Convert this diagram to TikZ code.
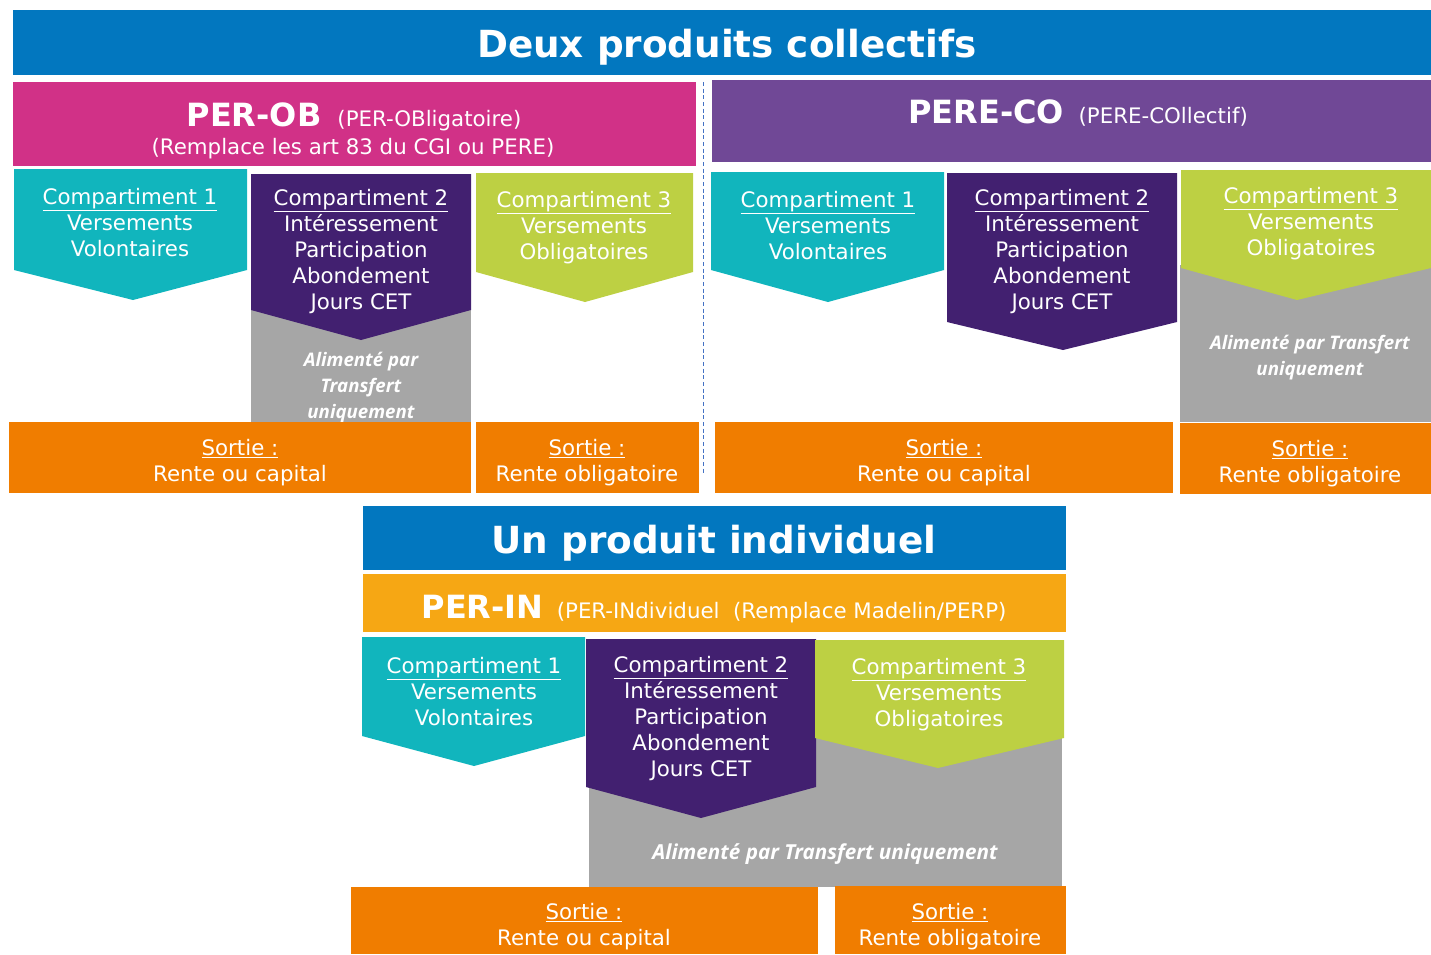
\documentclass[tikz,border=0pt]{standalone}
\usepackage{fontspec}
\setmainfont{DejaVu Sans}
\newfontfamily\alimfont{Open Sans}
\usepackage{tikz}
\definecolor{bleutitre}{RGB}{2,119,191}
\definecolor{perob}{RGB}{209,49,135}
\definecolor{pereco}{RGB}{112,72,150}
\definecolor{perin}{RGB}{246,167,20}
\definecolor{turquoise}{RGB}{17,181,189}
\definecolor{violetfonce}{RGB}{66,32,112}
\definecolor{vertclair}{RGB}{189,208,67}
\definecolor{gris}{RGB}{166,166,166}
\definecolor{sortie}{RGB}{240,125,0}
\definecolor{sepblue}{RGB}{68,114,196}

\begin{document}
\begin{tikzpicture}[x=0.75pt, y=-0.75pt,
		txt/.style={text=white, align=center, inner sep=0pt, yshift=-2.5pt, font=\fontsize{16}{19.5}\selectfont},
		titre/.style={text=white, inner sep=0pt, yshift=-2.25pt, font=\fontsize{28}{32}\selectfont\bfseries},
		alim/.style={text=white, align=center, inner sep=0pt, yshift=-2.5pt, font=\alimfont\fontsize{14}{19.5}\selectfont\bfseries\itshape},
		sepline/.style={draw=sepblue, densely dashed, line width=0.6pt}]
		\useasboundingbox (0,0) rectangle (1431,954);

		% Deux produits collectifs
		\fill[bleutitre] (13,10) rectangle (1431,75);
		\node[titre] (deux) at (727,44) {Deux produits collectifs};

		\fill[perob] (13,82) rectangle (696,166);
		\node[txt] (perob) at (354,114) {{\fontsize{24}{28}\selectfont\bfseries PER-OB}\hspace{12pt}(PER-OBligatoire)};
		\node[txt] (perob sub) at (353,145) {(Remplace les art 83 du CGI ou PERE)};

		\fill[pereco] (712,80) rectangle (1431,162);
		\node[txt] (pereco) at (1078,110) {{\fontsize{24}{28}\selectfont\bfseries PERE-CO}\hspace{11pt}(PERE-COllectif)};

		\coordinate (sep haut) at (703,82);
		\coordinate (sep bas) at (703,475);
		\draw[sepline] (sep haut) -- (sep bas);

		% PER-OB
		\fill[gris] (251,310) rectangle (471,422);
		\fill[turquoise] (14,169) -- (247,169) -- (247,270) -- (133,300) -- (14,270) -- cycle;
		\node[txt] (ob c1) at (130,219) {\underline{Compartiment 1}\\Versements\\Volontaires};
		\fill[violetfonce] (251,174) -- (471,174) -- (471,310) -- (361,340) -- (251,310) -- cycle;
		\node[txt] (ob c2) at (361,248) {\underline{Compartiment 2}\\Intéressement\\Participation\\Abondement\\Jours CET};
		\node[alim] (ob alim) at (361,384) {Alimenté par\\Transfert\\uniquement};
		\fill[vertclair] (476,173) -- (693,173) -- (693,272) -- (585,302) -- (476,272) -- cycle;
		\node[txt] (ob c3) at (584,224) {\underline{Compartiment 3}\\Versements\\Obligatoires};

		\fill[sortie] (9,422) rectangle (471,493);
		\node[txt] (ob s1) at (240,459) {\underline{Sortie :}\\Rente ou capital};
		\fill[sortie] (476,422) rectangle (699,493);
		\node[txt] (ob s2) at (587,459) {\underline{Sortie :}\\Rente obligatoire};

		% PERE-CO
		\fill[gris] (1180,265) rectangle (1431,422);
		\fill[turquoise] (711,172) -- (944,172) -- (944,270) -- (828,302) -- (711,270) -- cycle;
		\node[txt] (co c1) at (828,222) {\underline{Compartiment 1}\\Versements\\Volontaires};
		\fill[violetfonce] (947,173) -- (1177,173) -- (1177,322) -- (1063,350) -- (947,322) -- cycle;
		\node[txt] (co c2) at (1062,248) {\underline{Compartiment 2}\\Intéressement\\Participation\\Abondement\\Jours CET};
		\fill[vertclair] (1181,170) -- (1431,170) -- (1431,268) -- (1297,300) -- (1181,268) -- cycle;
		\node[txt] (co c3) at (1311,220) {\underline{Compartiment 3}\\Versements\\Obligatoires};
		\node[alim] (co alim) at (1310,354) {Alimenté par Transfert\\uniquement};

		\fill[sortie] (715,422) rectangle (1173,493);
		\node[txt] (co s1) at (944,459) {\underline{Sortie :}\\Rente ou capital};
		\fill[sortie] (1180,423) rectangle (1431,494);
		\node[txt] (co s2) at (1310,460) {\underline{Sortie :}\\Rente obligatoire};

		% Un produit individuel
		\fill[bleutitre] (363,506) rectangle (1066,570);
		\node[titre] (un) at (714,540) {Un produit individuel};
		\fill[perin] (363,574) rectangle (1066,632);
		\node[txt] (perin) at (714,606) {{\fontsize{24}{28}\selectfont\bfseries PER-IN}\hspace{10pt}(PER-INdividuel\ \ (Remplace Madelin/PERP)};

		\fill[gris] (589,738) rectangle (1062,887);
		\fill[turquoise] (362,637) -- (585,637) -- (585,736) -- (474,766) -- (362,736) -- cycle;
		\node[txt] (in c1) at (474,688) {\underline{Compartiment 1}\\Versements\\Volontaires};
		\fill[violetfonce] (586,639) -- (816,639) -- (816,787) -- (701,818) -- (586,787) -- cycle;
		\node[txt] (in c2) at (701,715) {\underline{Compartiment 2}\\Intéressement\\Participation\\Abondement\\Jours CET};
		\fill[vertclair] (815,640) -- (1064,640) -- (1064,738) -- (938,768) -- (815,738) -- cycle;
		\node[txt] (in c3) at (939,691) {\underline{Compartiment 3}\\Versements\\Obligatoires};
		\node[alim, font=\alimfont\fontsize{15.5}{19.5}\selectfont\bfseries\itshape] (in alim) at (825,851) {Alimenté par Transfert uniquement};

		\fill[sortie] (351,887) rectangle (818,954);
		\node[txt] (in s1) at (584,923) {\underline{Sortie :}\\Rente ou capital};
		\fill[sortie] (835,886) rectangle (1066,954);
		\node[txt] (in s2) at (950,923) {\underline{Sortie :}\\Rente obligatoire};
\end{tikzpicture}
\end{document}
